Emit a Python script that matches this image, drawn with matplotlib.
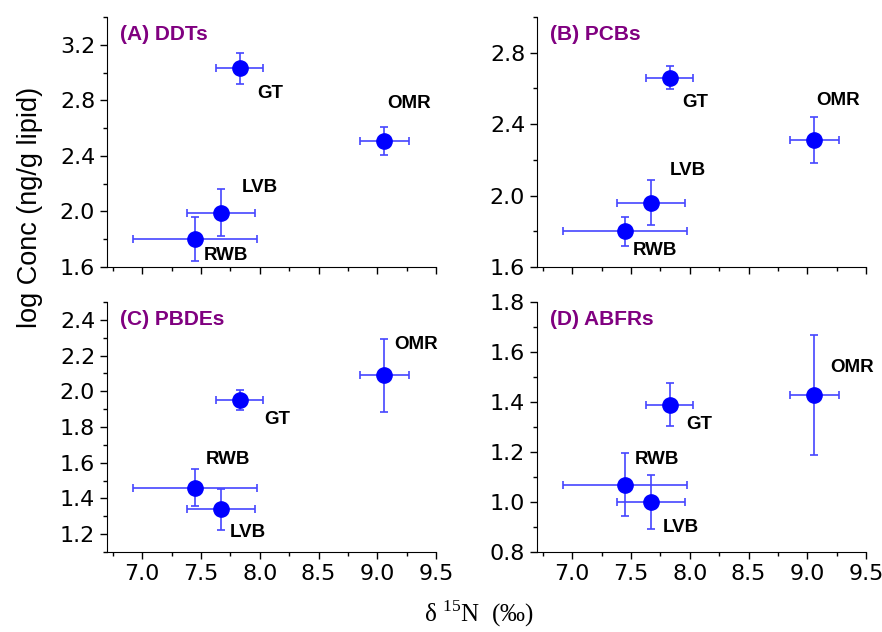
import numpy as np
import matplotlib
matplotlib.use("Agg")
import matplotlib.pyplot as plt
from matplotlib.ticker import MultipleLocator

plt.rcParams['mathtext.fontset'] = 'custom'
plt.rcParams['mathtext.rm'] = 'Liberation Serif'

# species order: GT, OMR, LVB, RWB
species = ['GT', 'OMR', 'LVB', 'RWB']
d15n = [7.83, 9.06, 7.67, 7.45]
d15n_err = [0.20, 0.21, 0.29, 0.53]

ddts = [3.03, 2.51, 1.99, 1.80]
ddts_err = [0.11, 0.10, 0.17, 0.16]
pcbs = [2.66, 2.31, 1.96, 1.80]
pcbs_err = [0.065, 0.13, 0.125, 0.08]
pbdes = [1.95, 2.09, 1.34, 1.46]
pbdes_err = [0.056, 0.205, 0.115, 0.105]
abfrs = [1.39, 1.43, 1.00, 1.07]
abfrs_err = [0.085, 0.24, 0.109, 0.127]

# label positions (data coords) for each panel
label_pos = {
    'A': [(8.09, 2.85), (9.27, 2.78), (8.00, 2.17), (7.71, 1.68)],
    'B': [(8.05, 2.52), (9.26, 2.53), (7.98, 2.14), (7.70, 1.69)],
    'C': [(8.15, 1.84), (9.33, 2.26), (7.90, 1.21), (7.73, 1.62)],
    'D': [(8.08, 1.31), (9.38, 1.54), (7.92, 0.90), (7.72, 1.17)],
}

panels = [
    ('A', '(A) DDTs', ddts, ddts_err, (1.6, 3.4), 0.4, 0.2),
    ('B', '(B) PCBs', pcbs, pcbs_err, (1.6, 3.0), 0.4, 0.2),
    ('C', '(C) PBDEs', pbdes, pbdes_err, (1.1, 2.5), 0.2, 0.1),
    ('D', '(D) ABFRs', abfrs, abfrs_err, (0.8, 1.8), 0.2, 0.1),
]

fig = plt.figure(figsize=(8.82, 6.32), dpi=100)
W, H = 882, 632
boxes = {
    'A': (107, 17, 329, 250),
    'B': (537, 17, 329, 250),
    'C': (107, 302, 329, 250),
    'D': (537, 302, 329, 250),
}

for key, title, vals, errs, ylim, ymaj, ymin in panels:
    x0, y0, w, h = boxes[key]
    ax = fig.add_axes([x0 / W, (H - y0 - h) / H, w / W, h / H])
    ax.errorbar(d15n, vals, xerr=d15n_err, yerr=errs, fmt='none',
                ecolor='#4646ff', elinewidth=1.2, capsize=3, capthick=1.2)
    ax.plot(d15n, vals, 'o', color='#0000ff', markersize=11, zorder=3)
    for name, (lx, ly) in zip(species, label_pos[key]):
        ax.text(lx, ly, name, ha='center', va='center', fontsize=13.5,
                fontweight='bold', family='Liberation Sans')
    ax.text(0.04, 0.93, title, transform=ax.transAxes, ha='left', va='center',
            fontsize=15, fontweight='bold', color='#800080',
            family='Liberation Sans')
    ax.set_xlim(6.7, 9.5)
    ax.set_ylim(*ylim)
    ax.xaxis.set_major_locator(MultipleLocator(0.5))
    ax.xaxis.set_minor_locator(MultipleLocator(0.25))
    ax.yaxis.set_major_locator(MultipleLocator(ymaj))
    ax.yaxis.set_minor_locator(MultipleLocator(ymin))
    ax.yaxis.set_major_formatter(plt.FormatStrFormatter('%.1f'))
    ax.xaxis.set_major_formatter(plt.FormatStrFormatter('%.1f'))
    ax.spines['top'].set_visible(False)
    ax.spines['right'].set_visible(False)
    ax.tick_params(which='major', direction='out', length=5, width=1,
                   labelsize=16)
    ax.tick_params(which='minor', direction='out', length=3, width=1)
    if key in ('A', 'B'):
        ax.tick_params(axis='x', labelbottom=False)

fig.text(30 / W, (H - 207) / H, 'log Conc (ng/g lipid)', rotation=90,
         ha='center', va='center', fontsize=19.5, family='Liberation Sans')
fig.text(479 / W, (H - 614) / H, 'δ $^{\\mathrm{15}}$N  (‰)', ha='center',
         va='center', fontsize=18, family='Liberation Serif')

fig.savefig('out.png', dpi=100)
